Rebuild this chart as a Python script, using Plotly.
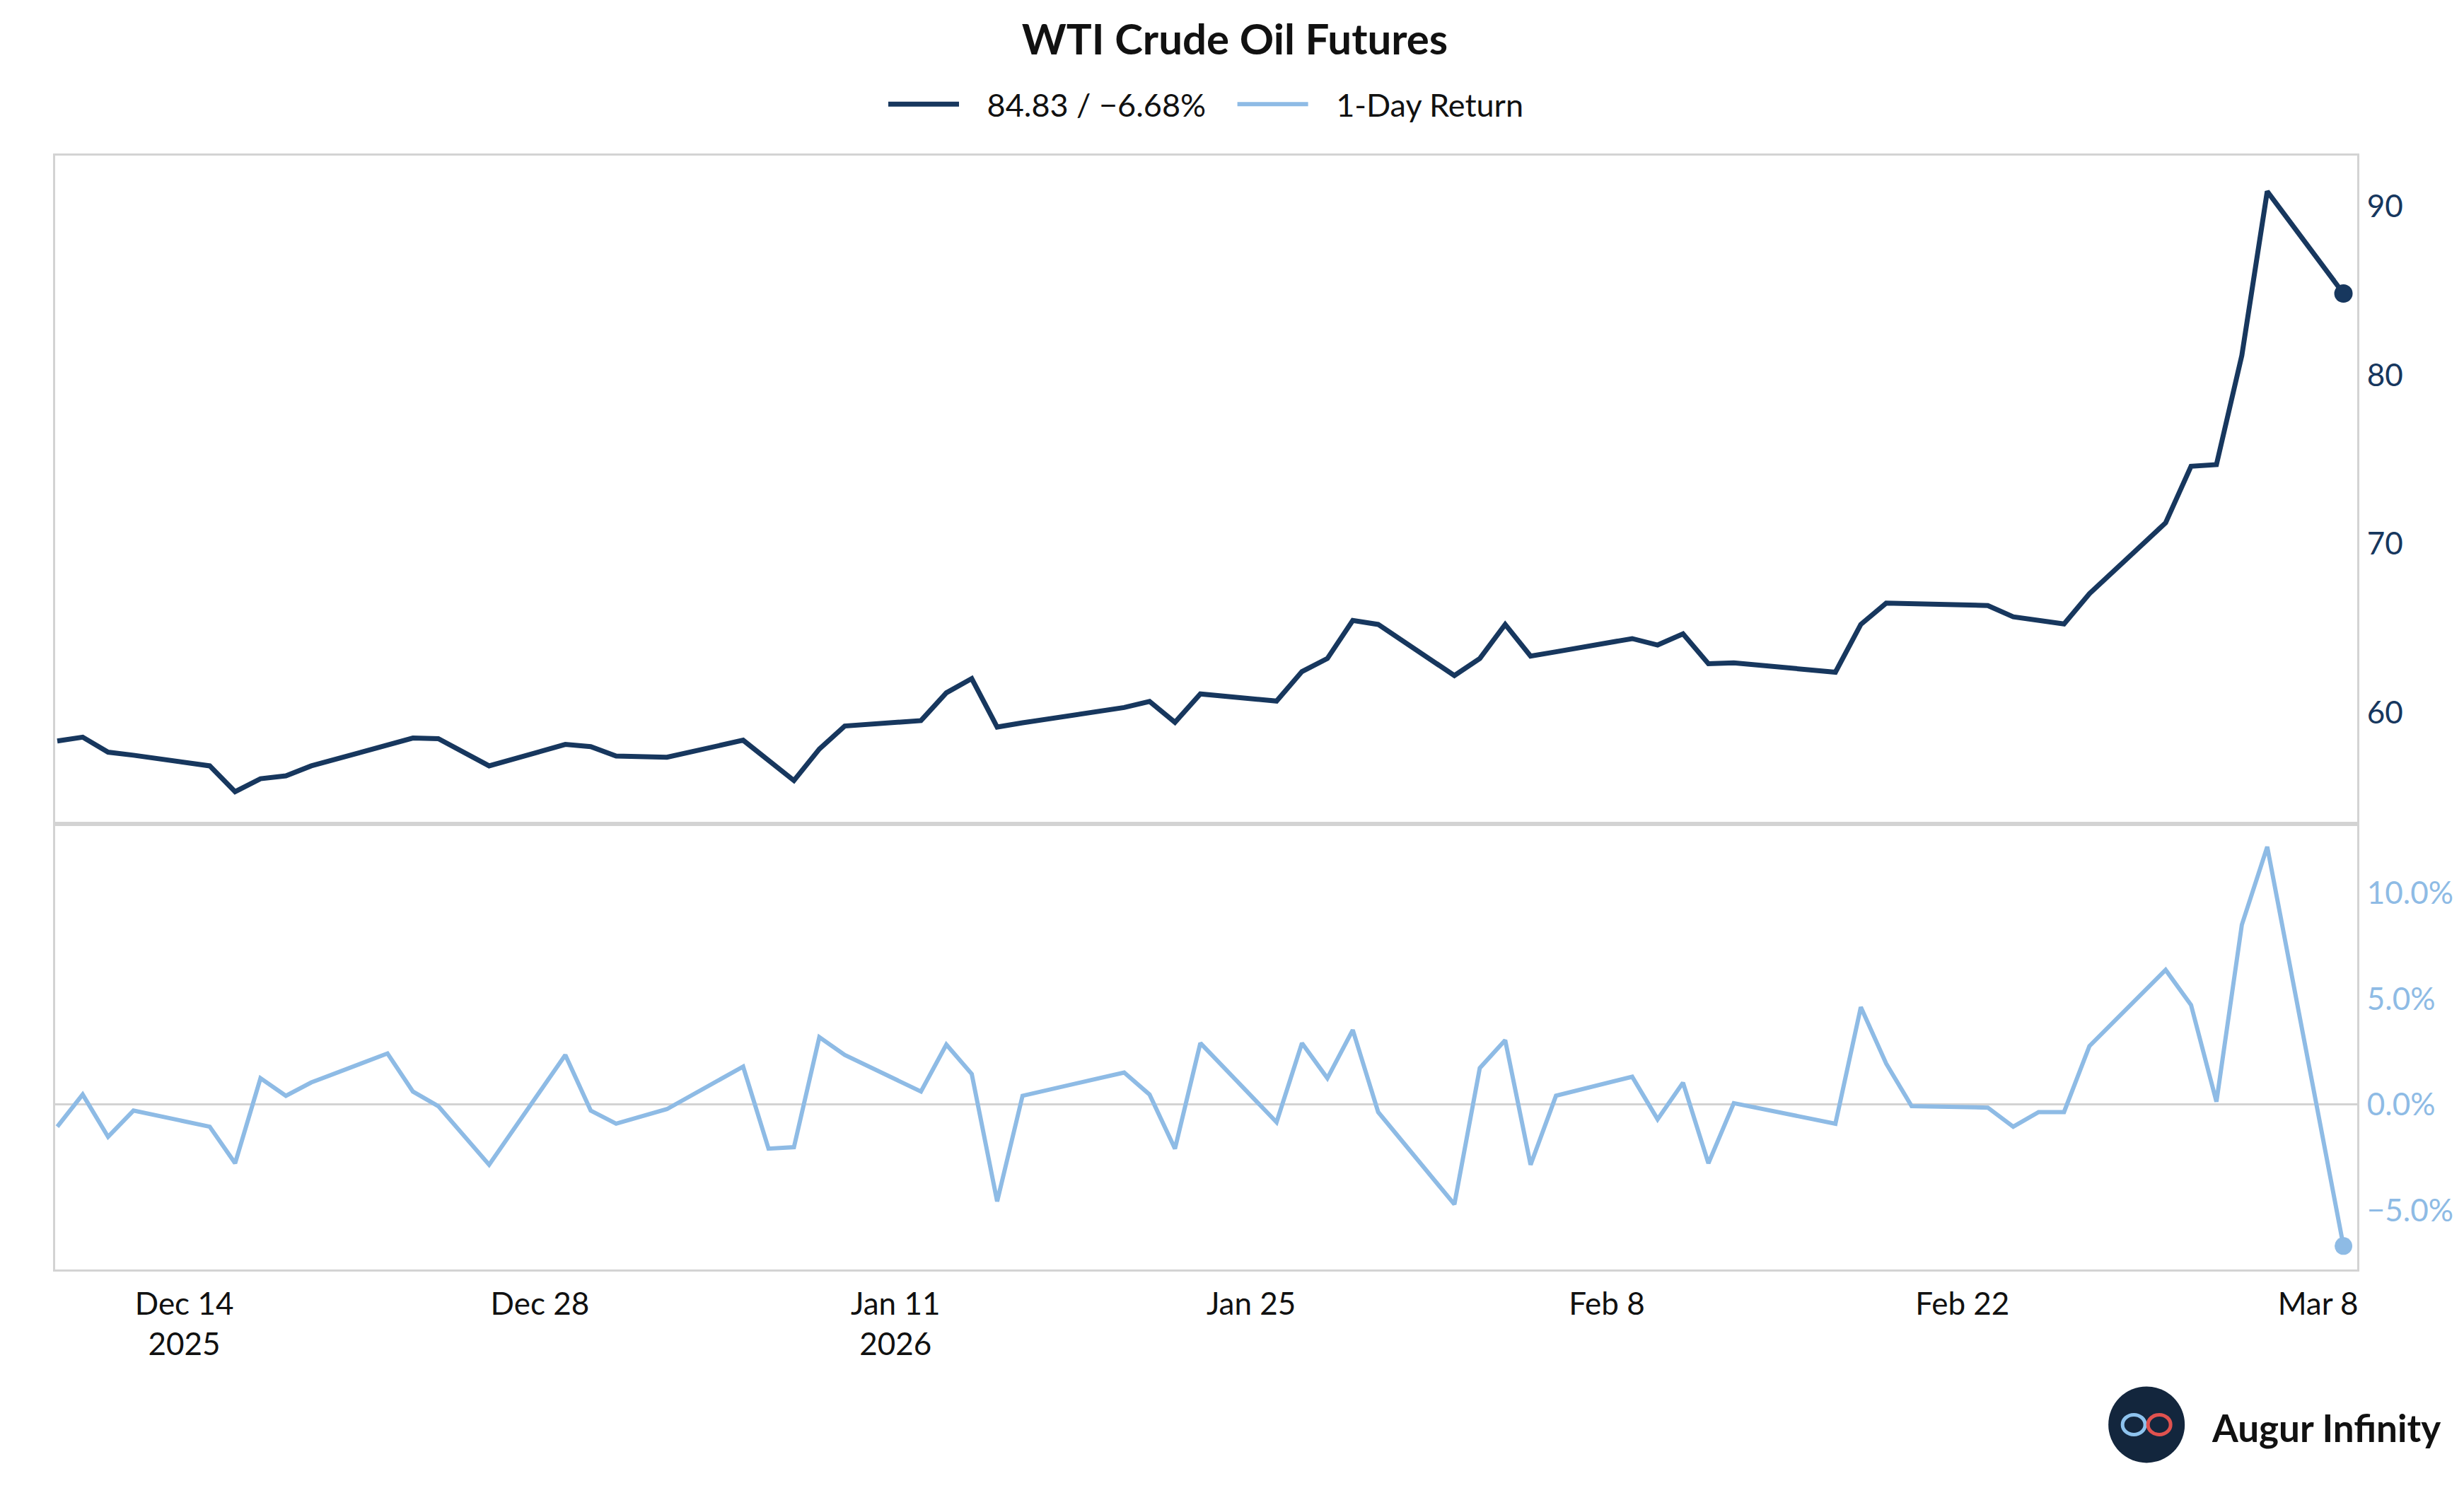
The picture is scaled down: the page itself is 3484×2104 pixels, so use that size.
import plotly.graph_objects as go
from plotly.subplots import make_subplots

# ---------------- data ----------------
dates = [
    "2025-12-09", "2025-12-10", "2025-12-11", "2025-12-12",
    "2025-12-15", "2025-12-16", "2025-12-17", "2025-12-18", "2025-12-19",
    "2025-12-22", "2025-12-23", "2025-12-24", "2025-12-26",
    "2025-12-29", "2025-12-30", "2025-12-31", "2026-01-02",
    "2026-01-05", "2026-01-06", "2026-01-07", "2026-01-08", "2026-01-09",
    "2026-01-12", "2026-01-13", "2026-01-14", "2026-01-15", "2026-01-16",
    "2026-01-20", "2026-01-21", "2026-01-22", "2026-01-23",
    "2026-01-26", "2026-01-27", "2026-01-28", "2026-01-29", "2026-01-30",
    "2026-02-02", "2026-02-03", "2026-02-04", "2026-02-05", "2026-02-06",
    "2026-02-09", "2026-02-10", "2026-02-11", "2026-02-12", "2026-02-13",
    "2026-02-17", "2026-02-18", "2026-02-19", "2026-02-20",
    "2026-02-23", "2026-02-24", "2026-02-25", "2026-02-26", "2026-02-27",
    "2026-03-02", "2026-03-03", "2026-03-04", "2026-03-05", "2026-03-06",
    "2026-03-09",
]

price = [
    58.31, 58.54, 57.65, 57.47,
    56.84, 55.31, 56.08, 56.25, 56.84,
    58.08, 58.49, 58.45, 56.84,
    58.11, 57.98, 57.42, 57.35,
    58.36, 57.15, 55.97, 57.84, 59.20,
    59.52, 61.17, 62.01, 59.14, 59.39,
    60.30, 60.66, 59.42, 61.10,
    60.68, 62.43, 63.20, 65.46, 65.22,
    62.19, 63.20, 65.22, 63.34, 63.60,
    64.38, 64.00, 64.66, 62.89, 62.94,
    62.39, 65.22, 66.48, 66.45,
    66.34, 65.67, 65.44, 65.25, 67.04,
    71.24, 74.59, 74.69, 81.16, 90.88,
    84.83,
]

return_pct = [
    -1.04, 0.48, -1.52, -0.28,
    -1.04, -2.77, 1.25, 0.42, 1.05,
    2.42, 0.62, -0.07, -2.84,
    2.35, -0.28, -0.90, -0.21,
    1.80, -2.08, -2.01, 3.19, 2.35,
    0.62, 2.84, 1.45, -4.57, 0.42,
    1.52, 0.48, -2.08, 2.91,
    -0.83, 2.91, 1.25, 3.53, -0.35,
    -4.71, 1.73, 3.05, -2.84, 0.42,
    1.32, -0.69, 1.04, -2.77, 0.07,
    -0.90, 4.61, 1.94, -0.07,
    -0.14, -1.04, -0.35, -0.35, 2.77,
    6.37, 4.71, 0.14, 8.50, 12.19,
    -6.68,
]

price_ticks = [60, 70, 80, 90]
return_ticks = [-0.05, 0.0, 0.05, 0.10]

title_text = "WTI Crude Oil Futures"
return_name = "1-Day Return"
brand_text = "Augur Infinity"

# ---------------- styling ----------------
NAVY = "#17375E"
LIGHT = "#8EBBE5"
FRAME = "#D3D3D3"
TEXT = "#111111"
FONT = "Lato"
NB = "\u00a0"

# the page body keeps its default 8px margin, so the figure is sized to fit
W, H = 3476, 2096

returns = [r / 100.0 for r in return_pct]


def fmt_signed(v):
    s = f"{v:.2f}"
    return s.replace("-", "\u2212")


price_label = f"{price[-1]:.2f} / {fmt_signed(return_pct[-1])}%"

fig = make_subplots(rows=2, cols=1, shared_xaxes=True,
                    vertical_spacing=0, row_heights=[0.6, 0.4])

fig.add_trace(go.Scatter(x=dates, y=price, mode="lines",
                         name=NB * 3 + price_label + NB * 3,
                         line=dict(color=NAVY, width=7)), row=1, col=1)
fig.add_trace(go.Scatter(x=[dates[-1]], y=[price[-1]], mode="markers",
                         marker=dict(color=NAVY, size=26), showlegend=False,
                         hoverinfo="skip"), row=1, col=1)
fig.add_trace(go.Scatter(x=dates, y=returns, mode="lines",
                         name=NB * 3 + return_name,
                         line=dict(color=LIGHT, width=6)), row=2, col=1)
fig.add_trace(go.Scatter(x=[dates[-1]], y=[returns[-1]], mode="markers",
                         marker=dict(color=LIGHT, size=25), showlegend=False,
                         hoverinfo="skip"), row=2, col=1)

x_range = ["2025-12-08 22:00", "2026-03-09 13:00"]

axis_common = dict(showline=True, linecolor=FRAME, linewidth=3, mirror=True,
                   showgrid=False, ticks="", automargin=False)

fig.update_xaxes(**axis_common, range=x_range, type="date")
fig.update_xaxes(showticklabels=False, row=1, col=1)
fig.update_xaxes(showticklabels=True, dtick=14 * 86400000, tick0="2000-01-02",
                 ticklabelstandoff=8, tickfont=dict(size=44, color=TEXT),
                 row=2, col=1)

fig.update_yaxes(**axis_common, side="right", zeroline=False,
                 range=[53.4, 93.0], tickvals=price_ticks,
                 ticklabelstandoff=2, tickfont=dict(size=44, color=NAVY),
                 row=1, col=1)
fig.update_yaxes(**axis_common, side="right",
                 range=[-0.0779, 0.1327], tickvals=return_ticks,
                 tickformat=".1%", zeroline=True, zerolinecolor=FRAME,
                 zerolinewidth=3, ticklabelstandoff=2,
                 tickfont=dict(size=44, color=LIGHT), row=2, col=1)

# brand mark (bottom right)
logo_x, logo_y = 0.9085, -0.1393
shapes = [
    dict(type="circle", xref="paper", yref="paper", xsizemode="pixel",
         ysizemode="pixel", xanchor=logo_x, yanchor=logo_y,
         x0=-54, x1=54, y0=-54, y1=54, fillcolor="#13263D",
         line=dict(width=0)),
    dict(type="circle", xref="paper", yref="paper", xsizemode="pixel",
         ysizemode="pixel", xanchor=logo_x, yanchor=logo_y,
         x0=-34, x1=-2, y0=-14, y1=14, fillcolor="rgba(0,0,0,0)",
         line=dict(width=5, color="#8EC3EE")),
    dict(type="circle", xref="paper", yref="paper", xsizemode="pixel",
         ysizemode="pixel", xanchor=logo_x, yanchor=logo_y,
         x0=2, x1=34, y0=-14, y1=14, fillcolor="rgba(0,0,0,0)",
         line=dict(width=5, color="#E0524F")),
]

fig.update_layout(
    width=W, height=H,
    margin=dict(l=70, r=151, t=212, b=309, autoexpand=False),
    paper_bgcolor="white", plot_bgcolor="white",
    font=dict(family=FONT, size=44, color=TEXT),
    title=dict(text=title_text, x=0.5, xanchor="center", xref="container",
               y=1 - 47.5 / H, yanchor="middle",
               font=dict(family=FONT, size=60, color=TEXT, weight="bold")),
    legend=dict(orientation="h", x=0.5, xanchor="center", y=1.046,
                yanchor="middle", font=dict(size=45, color=TEXT),
                itemwidth=100, bgcolor="rgba(0,0,0,0)"),
    shapes=shapes,
    annotations=[dict(text=brand_text, xref="paper", yref="paper",
                      x=0.9362, y=-0.1417, xanchor="left", yanchor="middle",
                      showarrow=False,
                      font=dict(family=FONT, size=53, color=TEXT,
                                weight="bold"))],
    hovermode=False,
)

fig.write_html("out.html")
